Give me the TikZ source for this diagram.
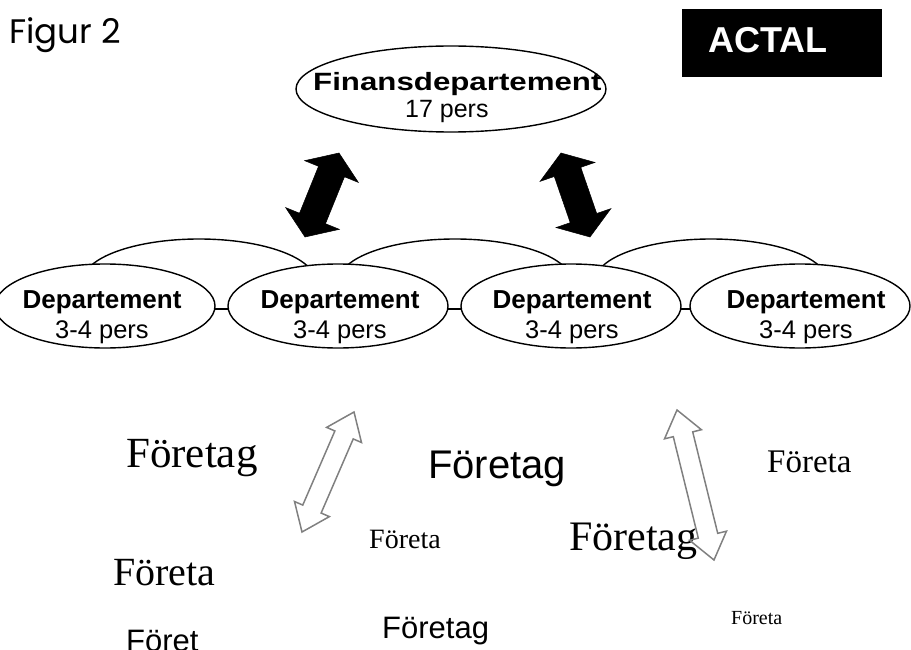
\documentclass[tikz,border=0pt]{standalone}
\usepackage{fontspec}
\setmainfont{Liberation Serif}
\newfontfamily\arialf{Liberation Sans}
\newfontfamily\gothicf{Poppins}
\usetikzlibrary{calc,shapes.geometric}
% double-headed block arrow between two named coordinates
% #1 start, #2 end, #3 half shaft width, #4 half head width, #5 head length, #6 style
\newcommand\twoway[6]{%
  \coordinate (tw1) at ($(#1)!#5!(#2)$);
  \coordinate (tw2) at ($(#2)!#5!(#1)$);
  \draw[#6] (#1) -- ($(tw1)!#4!90:(#2)$) -- ($(tw1)!#3!90:(#2)$)
    -- ($(tw2)!#3!-90:(#1)$) -- ($(tw2)!#4!-90:(#1)$) -- (#2)
    -- ($(tw2)!#4!90:(#1)$) -- ($(tw2)!#3!90:(#1)$)
    -- ($(tw1)!#3!-90:(#2)$) -- ($(tw1)!#4!-90:(#2)$) -- cycle;
}
\begin{document}
\begin{tikzpicture}[x=1pt,y=-1pt,
  ell/.style={ellipse, draw, line width=1.4pt, fill=white, inner sep=0pt,
    minimum width=220pt, minimum height=84pt},
  backarc/.style={draw, line width=1.4pt},
  txt/.style={inner sep=0pt, anchor=base west},
  ctxt/.style={inner sep=0pt, anchor=base},
  dname/.style={ctxt, font=\arialf\bfseries\fontsize{26}{30}\selectfont},
  dpers/.style={ctxt, font=\arialf\fontsize{25.5}{30}\selectfont},
  solidarrow/.style={fill=black, draw=black, line width=0.5pt, line join=miter},
  openarrow/.style={draw=black!50, line width=1.5pt, line join=miter},
  junction/.style={line width=1.4pt}
]
\useasboundingbox (0,0) rectangle (911,650);

% title and logo
\node[txt, font=\gothicf\fontsize{34}{38}\selectfont] (fig) at (9,44) {Figur 2};
\node[fill=black, inner sep=0pt, minimum width=200pt, minimum height=68pt, anchor=north west] (logo) at (682,9) {};
\node[txt, text=white, font=\arialf\bfseries\fontsize{36}{40}\selectfont] (logotxt) at (708,53) {ACTAL};

% back ellipses (only their upper halves show)
\coordinate (b1) at (199,281);
\coordinate (b2) at (455,281);
\coordinate (b3) at (711,281);
\draw[backarc] ($(b1)+(-116,0)$) arc[start angle=180, end angle=360, x radius=116, y radius=42];
\draw[backarc] ($(b2)+(-116,0)$) arc[start angle=180, end angle=360, x radius=116, y radius=42];
\draw[backarc] ($(b3)+(-116,0)$) arc[start angle=180, end angle=360, x radius=116, y radius=42];

% top ellipse
\node[ellipse, draw, line width=1.4pt, fill=white, inner sep=0pt,
  minimum width=310pt, minimum height=86pt] (fin) at (451,89) {};
\node[txt, font=\arialf\bfseries\fontsize{25}{30}\selectfont] (fint) at (313,91) {\scalebox{1.25}[1]{Finansdepartement}};
\node[txt, font=\arialf\fontsize{25}{30}\selectfont] (finp) at (405,118) {17 pers};

% front ellipses
\coordinate (c1) at (105,306);
\coordinate (c2) at (338,306);
\coordinate (c3) at (571,306);
\coordinate (c4) at (800,306);
\draw[junction] ($(c1)+(105,3)$) -- ($(c4)+(-105,3)$);
\node[ell] (d1) at (c1) {};
\node[ell] (d2) at (c2) {};
\node[ell] (d3) at (c3) {};
\node[ell] (d4) at (c4) {};

\node[dname] (n1) at (102,308) {Departement};
\node[dpers] (p1) at (102,338) {3-4 pers};
\node[dname] (n2) at (340,308) {Departement};
\node[dpers] (p2) at (340,338) {3-4 pers};
\node[dname] (n3) at (572,308) {Departement};
\node[dpers] (p3) at (572,338) {3-4 pers};
\node[dname] (n4) at (806,308) {Departement};
\node[dpers] (p4) at (806,338) {3-4 pers};

% solid double arrows
\coordinate (la1) at (305,237);
\coordinate (la2) at (339,153);
\coordinate (ra1) at (561,153);
\coordinate (ra2) at (590,237);
\twoway{la1}{la2}{14pt}{29pt}{20pt}{solidarrow}
\twoway{ra1}{ra2}{14pt}{29pt}{20pt}{solidarrow}

% lower companies
\node[txt, font=\fontsize{43}{48}\selectfont] (f1) at (126,467) {Företag};
\node[txt, font=\arialf\fontsize{40}{46}\selectfont] (f2) at (428,478) {Företag};
\node[txt, font=\fontsize{33}{38}\selectfont] (f3) at (767,472) {Företa};
\node[txt, font=\fontsize{28}{32}\selectfont] (f4) at (369,548) {Företa};
\node[txt, font=\fontsize{42}{48}\selectfont] (f5) at (569,550) {Företag};
\node[txt, font=\fontsize{40}{46}\selectfont] (f6) at (113,585) {Företa};
\node[txt, font=\arialf\fontsize{31}{36}\selectfont] (f7) at (126,651) {Föret};
\node[txt, font=\arialf\fontsize{31}{36}\selectfont] (f8) at (382,638) {Företag};
\node[txt, font=\fontsize{20}{24}\selectfont] (f9) at (731,624) {Företa};

% open double arrows
\coordinate (lo1) at (302,532);
\coordinate (lo2) at (354,412);
\coordinate (ro1) at (677,410);
\coordinate (ro2) at (714,560);
\twoway{lo1}{lo2}{10pt}{19pt}{25pt}{openarrow}
\twoway{ro1}{ro2}{10pt}{19pt}{25pt}{openarrow}
\end{tikzpicture}
\end{document}
